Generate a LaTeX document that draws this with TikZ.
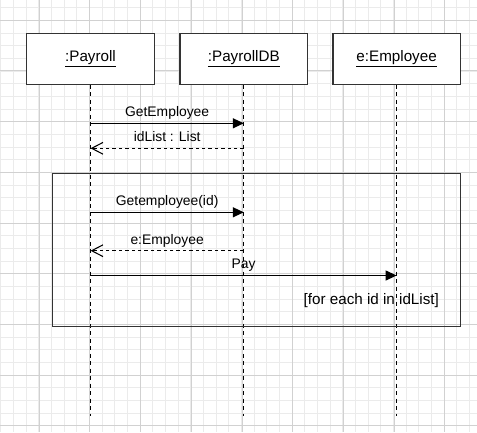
\documentclass[tikz,border=0pt]{standalone}
\usepackage{fontspec}
\setmainfont{Liberation Sans}
\usetikzlibrary{arrows.meta}
\begin{document}
\begin{tikzpicture}[x=0.75pt,y=-0.75pt,
  minorgrid/.style={draw=black!8,line width=0.6pt},
  majorgrid/.style={draw=black!18,line width=0.75pt},
  objbox/.style={draw=black!80,fill=white,line width=1.1pt,minimum width=95.7pt,minimum height=38.2pt,inner sep=0pt,font=\fontsize{11.4pt}{13pt}\selectfont},
  lifeline/.style={draw=black,line width=0.8pt,dash pattern=on 3pt off 2.6pt},
  fragbox/.style={draw=black!80,line width=1.1pt,minimum width=306.3pt,minimum height=114.75pt,inner sep=0pt},
  callmsg/.style={draw=black,line width=0.95pt,-{Triangle[length=8.25pt,width=7.5pt]}},
  retmsg/.style={draw=black,line width=0.8pt,dash pattern=on 2.6pt off 2.2pt,-{Straight Barb[length=8.5pt,width=8.8pt,line width=0.8pt]}},
  msglabel/.style={midway,anchor=base,yshift=5pt,inner sep=0pt,font=\fontsize{10.4pt}{12pt}\selectfont},
  guardtext/.style={inner sep=0pt,font=\fontsize{11.4pt}{13pt}\selectfont}]
\useasboundingbox (0,0) rectangle (477,432);
\fill[white] (0,0) rectangle (477,432);
% grid
\foreach \k in {0,...,37}{
  \pgfmathsetmacro{\gx}{0.67+12.667*\k}
  \draw[minorgrid] (\gx,0) -- (\gx,432);
}
\foreach \k in {0,...,34}{
  \pgfmathsetmacro{\gy}{7.6+12.667*\k}
  \draw[minorgrid] (0,\gy) -- (477,\gy);
}
\foreach \k in {0,...,8}{
  \pgfmathsetmacro{\gx}{39.33+50.667*\k}
  \draw[majorgrid] (\gx,0) -- (\gx,432);
}
\foreach \k in {0,...,8}{
  \pgfmathsetmacro{\gy}{20.33+50.667*\k}
  \draw[majorgrid] (0,\gy) -- (477,\gy);
}
% objects
\node[objbox] (pay) at (90.5,58.8) {\underline{:Payroll}};
\node[objbox] (db) at (243.8,58.8) {\underline{:PayrollDB}};
\node[objbox] (emp) at (396.6,58.8) {\underline{e:Employee}};
% lifeline ends
\coordinate (payend) at (90.5,416);
\coordinate (dbend) at (243.8,416);
\coordinate (empend) at (396.6,416);
\draw[lifeline] (pay.south) -- (payend);
\draw[lifeline] (db.south) -- (dbend);
\draw[lifeline] (emp.south) -- (empend);
% fragment
\node[fragbox] (loop) at (256.5,249.8) {};
% message end points
\coordinate (m1a) at (90.5,123.3);
\coordinate (m1b) at (243.8,123.3);
\coordinate (m2a) at (90.5,148.3);
\coordinate (m2b) at (243.8,148.3);
\coordinate (m3a) at (90.5,212.3);
\coordinate (m3b) at (243.8,212.3);
\coordinate (m4a) at (90.5,250.7);
\coordinate (m4b) at (243.8,250.7);
\coordinate (m5a) at (90.5,275.5);
\coordinate (m5b) at (396.6,275.5);
\draw[callmsg] (m1a) -- node[msglabel] {GetEmployee} (m1b);
\draw[retmsg] (m2b) -- node[msglabel] {idList : List} (m2a);
\draw[callmsg] (m3a) -- node[msglabel] {Getemployee(id)} (m3b);
\draw[retmsg] (m4b) -- node[msglabel] {e:Employee} (m4a);
\draw[callmsg] (m5a) -- node[msglabel] {Pay} (m5b);
\node[guardtext] (guard) at (371.3,301) {[for each id in idList]};
\end{tikzpicture}
\end{document}
